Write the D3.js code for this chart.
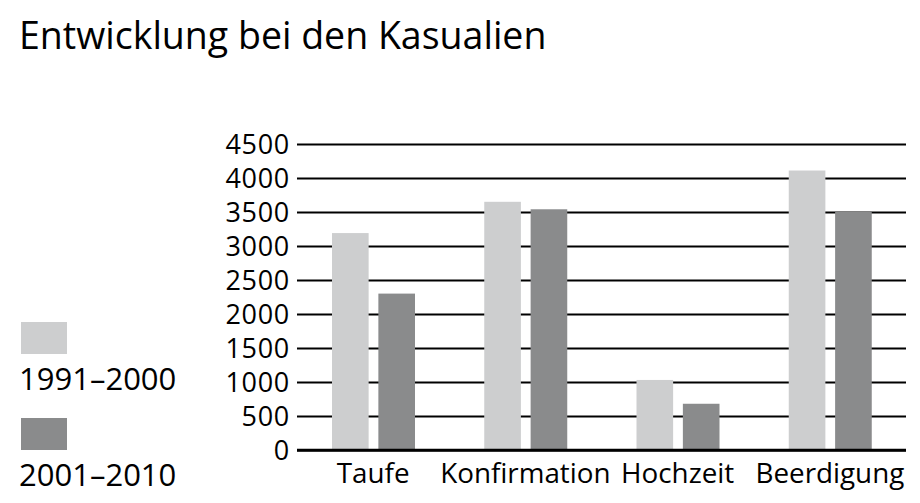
<!DOCTYPE html>
<html>
<head>
<meta charset="utf-8">
<script src="https://cdn.jsdelivr.net/npm/d3@7"></script>
<style>
  body { margin: 0; background: #fff; }
  svg { font-family: "Open Sans", sans-serif; }
</style>
</head>
<body>
<svg id="chart" width="920" height="503"></svg>
<script>
const categories = ["Taufe", "Konfirmation", "Hochzeit", "Beerdigung"]
const seriesNames = ["1991–2000", "2001–2010"]
const values1991 = [3190, 3650, 1030, 4110]
const values2001 = [2300, 3540, 680, 3500]
const yTicks = [0, 500, 1000, 1500, 2000, 2500, 3000, 3500, 4000, 4500]
const colors = ["#cdcecf", "#8a8b8c"]

const svg = d3.select("#chart")

const plotLeft = 297, plotRight = 906, plotTop = 144, plotBottom = 450

const xScale = d3.scaleBand()
    .domain(categories)
    .range([plotLeft, plotRight])

const xInner = d3.scaleBand()
    .domain(seriesNames)
    .range([35, 118])
    .paddingInner(0.21)

const yScale = d3.scaleLinear()
    .domain([0, 4500])
    .range([plotBottom, plotTop])

// title
svg.append("text")
    .attr("x", 19)
    .attr("y", 49)
    .attr("font-size", 37.5)
    .attr("fill", "#000")
    .text("Entwicklung bei den Kasualien")

// grid lines + y labels
const yAxis = d3.axisLeft(yScale)
    .tickValues(yTicks)
    .tickSize(-(plotRight - plotLeft))
    .tickPadding(7)
    .tickFormat(d3.format("d"))

const gy = svg.append("g")
    .attr("transform", `translate(${plotLeft},0)`)
    .call(yAxis)
gy.select(".domain").remove()
gy.selectAll(".tick line")
    .attr("stroke", "#000")
    .attr("stroke-width", d => d === 0 ? 2.5 : 1.8)
gy.selectAll(".tick text")
    .attr("font-size", 27)
    .attr("letter-spacing", 0.7)
    .attr("font-family", "Open Sans, sans-serif")
    .attr("fill", "#000")
    .attr("dy", "0.36em")

const data = categories.map((c, i) => ({ cat: c, vals: [values1991[i], values2001[i]] }))

const groups = svg.selectAll(".grp")
    .data(data)
    .join("g")
    .attr("class", "grp")
    .attr("transform", d => `translate(${xScale(d.cat)},0)`)

groups.selectAll("rect")
    .data(d => d.vals.map((v, j) => ({ key: seriesNames[j], v: v, j: j })))
    .join("rect")
    .attr("x", d => xInner(d.key))
    .attr("width", xInner.bandwidth())
    .attr("y", d => yScale(d.v))
    .attr("height", d => yScale(0) - yScale(d.v) - 1)
    .attr("fill", d => colors[d.j])

// redraw baseline on top of bars
svg.append("line")
    .attr("x1", plotLeft)
    .attr("x2", plotRight)
    .attr("y1", yScale(0))
    .attr("y2", yScale(0))
    .attr("stroke", "#000")
    .attr("stroke-width", 2.5)

// x labels
const xAxis = d3.axisBottom(xScale).tickSize(0).tickPadding(13)
const gx = svg.append("g")
    .attr("transform", `translate(0,${plotBottom})`)
    .call(xAxis)
gx.select(".domain").remove()
gx.selectAll(".tick text")
    .attr("font-size", 27.8)
    .attr("font-family", "Open Sans, sans-serif")
    .attr("fill", "#000")

// legend
const legend = svg.selectAll(".leg")
    .data(seriesNames)
    .join("g")
    .attr("class", "leg")
    .attr("transform", (d, i) => `translate(21,${322 + i * 96})`)

legend.append("rect")
    .attr("width", 46)
    .attr("height", 32)
    .attr("fill", (d, i) => colors[i])

legend.append("text")
    .attr("x", -2)
    .attr("y", 68)
    .attr("font-size", 31)
    .attr("fill", "#000")
    .text(d => d)
</script>
</body>
</html>
